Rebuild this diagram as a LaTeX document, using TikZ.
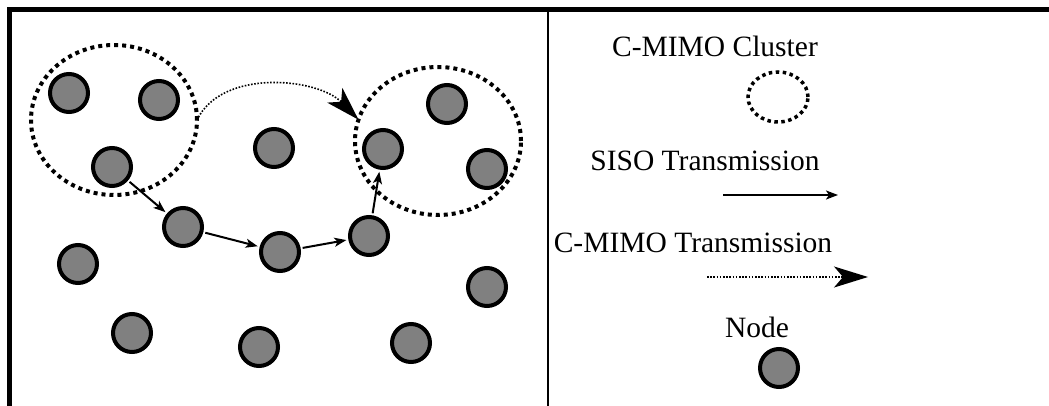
\documentclass[tikz,border=0pt]{standalone}
\usepackage{fontspec}
\setmainfont{Liberation Serif}
\usetikzlibrary{arrows.meta,shapes.geometric}
\begin{document}
\begin{tikzpicture}[x=1pt,y=-1pt,
  sensor/.style={circle,draw=black,line width=4pt,fill=black!50,minimum size=38pt,inner sep=0pt},
  cluster/.style={ellipse,draw=black,line width=4pt,dash pattern=on 4pt off 4pt,inner sep=0pt,outer sep=0pt},
  smallcluster/.style={cluster,line width=3.5pt,dash pattern=on 3.5pt off 3.5pt},
  siso/.style={line width=2pt,-{Stealth[length=12pt,width=9pt,inset=3pt]},shorten <=2pt,shorten >=2pt},
  cmimo/.style={line width=1.6pt,dash pattern=on 1.6pt off 1.6pt,-{Stealth[length=34pt,width=21pt,inset=9pt]}},
  legendtext/.style={anchor=base,font=\fontsize{29.5pt}{34pt}\selectfont,inner sep=0pt},
]
\useasboundingbox (0,0) rectangle (1049,406);

% frame and divider
\draw[line width=5pt,line join=miter] (9.5,406) -- (9.5,9.5) -- (1049,9.5);
\draw[line width=2pt] (548,12) -- (548,406);

% clusters
\node[cluster,minimum width=166pt,minimum height=150pt] (lc) at (114,120) {};
\node[cluster,minimum width=166pt,minimum height=148pt] (rc) at (438,141) {};

% network nodes
\node[sensor] (n1) at (69,93) {};
\node[sensor] (n2) at (159,100) {};
\node[sensor] (n3) at (112,167) {};
\node[sensor] (n4) at (274,148) {};
\node[sensor] (n5) at (183,227) {};
\node[sensor] (n6) at (280,252) {};
\node[sensor] (n7) at (369,236) {};
\node[sensor] (n8) at (383,149) {};
\node[sensor] (n9) at (447,104) {};
\node[sensor] (n10) at (487,169) {};
\node[sensor] (n11) at (78,264) {};
\node[sensor] (n12) at (132,333) {};
\node[sensor] (n13) at (259,347) {};
\node[sensor] (n14) at (411,343) {};
\node[sensor] (n15) at (487,287) {};

% SISO hops
\draw[siso] (n3) -- (n5);
\draw[siso] (n5) -- (n6);
\draw[siso] (n6) -- (n7);
\draw[siso] (n7) -- (n8);

% cooperative MIMO link between clusters
\draw[cmimo] (lc.east) .. controls (222,68) and (318,78) .. (rc.165);

% legend
\node[legendtext] (t1) at (715,57) {C-MIMO Cluster};
\node[smallcluster,minimum width=60pt,minimum height=50pt] (lgc) at (778,97) {};

\node[legendtext] (t2) at (705,171) {SISO Transmission};
\coordinate (s1) at (723,195);
\coordinate (s2) at (838,195);
\draw[siso,shorten <=0pt,shorten >=0pt] (s1) -- (s2);

\node[legendtext] (t3) at (693,252) {C-MIMO Transmission};
\coordinate (m1) at (707,277);
\coordinate (m2) at (868,277);
\draw[cmimo] (m1) -- (m2);

\node[legendtext] (t4) at (757,337) {Node};
\node[sensor] (lgn) at (779,368) {};
\end{tikzpicture}
\end{document}
